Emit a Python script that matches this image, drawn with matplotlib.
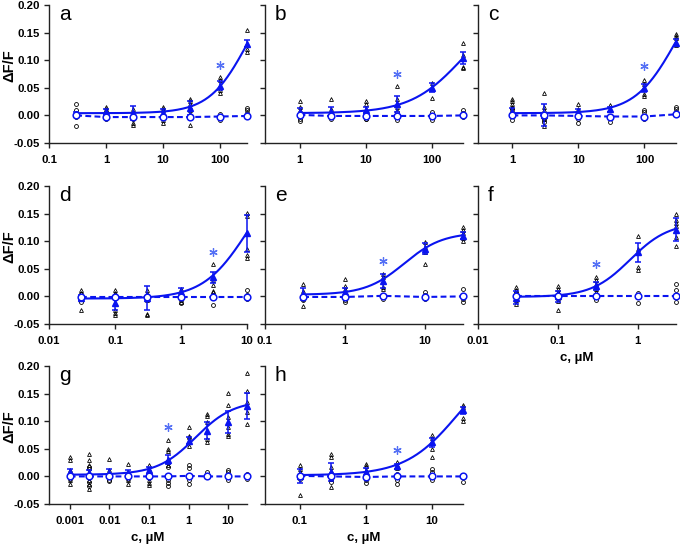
""" Concentration-response panels a-h """

import numpy as np
import matplotlib
matplotlib.use('Agg')
import matplotlib.pyplot as plt
from matplotlib.ticker import FixedLocator, NullLocator

plt.rcParams['font.family'] = ['Liberation Sans', 'DejaVu Sans']

BLUE = '#0a14f0'
STAR = '#5470f5'

# ---- panel a ----
conc_a = [0.3, 1, 3, 10, 30, 100, 300]
tri_a = [[0.004, 0.002], [0.015, 0.012, 0.009], [0.012, 0.006, -0.014, -0.018],
         [0.015, 0.012, 0.009, -0.009, -0.014], [0.030, 0.027, 0.021, 0.015, 0.009, -0.018],
         [0.070, 0.065, 0.046, 0.040], [0.154, 0.130, 0.121, 0.115]]
circ_a = [[0.020, 0.009, -0.002, -0.020], [-0.006, 0.0], [-0.006], [-0.005],
          [0.0], [0.003, -0.008], [0.014, 0.009, 0.004]]
mean_a = [0.003, 0.007, 0.004, 0.005, 0.014, 0.054, 0.130]
err_a = [0.003, 0.004, 0.013, 0.006, 0.013, 0.008, 0.006]
cmean_a = [0.0, -0.003, -0.003, -0.003, -0.003, -0.002, -0.001]
star_a = (100, 0.091)
fit_a = (0.004, 0.25, 300, 1.3)

# ---- panel b ----
conc_b = [1, 3, 10, 30, 100, 300]
tri_b = [[0.027, 0.015, 0.009], [0.030, 0.012], [0.026, 0.021, 0.012],
         [0.053, 0.030, 0.016], [0.059, 0.050, 0.031], [0.131, 0.110, 0.088, 0.085]]
circ_b = [[-0.006, -0.010], [-0.006], [-0.006, -0.007], [0.006, -0.008],
          [0.007, -0.008], [0.010, 0.005, -0.002]]
mean_b = [0.006, 0.007, 0.010, 0.021, 0.050, 0.104]
err_b = [0.007, 0.008, 0.005, 0.015, 0.008, 0.011]
cmean_b = [0.001, -0.001, -0.001, -0.001, -0.001, 0.0]
star_b = (30, 0.075)
fit_b = (0.004, 0.20, 300, 1.1)

# ---- panel c ----
conc_c = [1, 3, 10, 30, 100, 300]
tri_c = [[0.030, 0.026, 0.021, 0.016], [0.040, 0.015, 0.009, -0.006, -0.020],
         [0.021, 0.012], [0.018, 0.012], [0.065, 0.057, 0.039, 0.036],
         [0.148, 0.143, 0.140, 0.127]]
circ_c = [[0.012, 0.006, -0.009], [-0.006, -0.012], [0.003, -0.006, -0.014],
          [-0.012], [0.009, 0.006, -0.006], [0.016, 0.012, 0.007]]
mean_c = [0.006, 0.0, 0.006, 0.011, 0.050, 0.132]
err_c = [0.008, 0.020, 0.005, 0.004, 0.007, 0.006]
cmean_c = [0.0, 0.0, -0.001, -0.002, -0.002, 0.002]
star_c = (100, 0.089)
fit_c = (0.004, 0.26, 300, 1.4)

# ---- panel d ----
conc_d = [0.03, 0.1, 0.3, 1, 3, 10]
tri_d = [[0.011, 0.006, -0.024], [0.011, 0.006, -0.024, -0.030, -0.034],
         [0.012, 0.005, -0.001, -0.007, -0.031, -0.034], [0.014, 0.008, 0.005, -0.010],
         [0.058, 0.030, 0.020, 0.010, 0.008], [0.152, 0.145, 0.085, 0.075, 0.070]]
circ_d = [[0.005, -0.010], [0.002, -0.002], [0.003, -0.005], [-0.007, -0.012],
          [0.002, -0.015], [0.012, 0.002, -0.005]]
mean_d = [-0.002, -0.012, -0.003, 0.008, 0.035, 0.114]
err_d = [0.004, 0.013, 0.021, 0.008, 0.010, 0.034]
cmean_d = [-0.001, -0.001, -0.001, -0.001, -0.001, -0.001]
star_d = (3, 0.081)
fit_d = (-0.004, 0.24, 10, 1.3)

# ---- panel e ----
conc_e = [0.3, 1, 3, 10, 30]
tri_e = [[0.022, 0.010, -0.018], [0.032, 0.018, 0.014], [0.041, 0.036, 0.017, 0.014],
         [0.098, 0.090, 0.080, 0.058], [0.125, 0.120, 0.115, 0.105, 0.100]]
circ_e = [[-0.004, -0.007], [-0.007, -0.010], [-0.004], [0.008, 0.002, -0.005],
          [0.014, -0.004, -0.010]]
mean_e = [0.004, 0.008, 0.028, 0.086, 0.110]
err_e = [0.011, 0.007, 0.012, 0.010, 0.006]
cmean_e = [-0.001, -0.001, 0.001, -0.001, 0.0]
star_e = (3, 0.064)
fit_e = (0.003, 0.113, 5.5, 1.8)

# ---- panel f ----
conc_f = [0.03, 0.1, 0.3, 1, 3]
tri_f = [[0.017, 0.012, 0.004, -0.007, -0.013], [0.018, 0.014, 0.008, 0.005, -0.008, -0.025],
         [0.036, 0.030, 0.023, 0.014, 0.008], [0.110, 0.086, 0.054, 0.047],
         [0.150, 0.138, 0.133, 0.127, 0.121, 0.107, 0.092]]
circ_f = [[0.006, -0.005], [0.004, -0.004], [-0.007], [0.006, -0.012],
          [0.023, 0.011, -0.010]]
mean_f = [-0.002, 0.0, 0.019, 0.080, 0.121]
err_f = [0.011, 0.010, 0.008, 0.017, 0.021]
cmean_f = [0.0, 0.0, 0.0, 0.0, 0.0]
star_f = (0.3, 0.059)
fit_f = (-0.001, 0.135, 0.8, 1.8)

# ---- panel g ----
conc_g = [0.001, 0.003, 0.01, 0.03, 0.1, 0.3, 1, 3, 10, 30]
tri_g = [[0.035, 0.029, 0.011, -0.007, -0.014], [0.041, 0.029, 0.020, -0.007, -0.014, -0.022],
         [0.032, 0.011, 0.005], [0.023, -0.007, -0.013], [0.020, 0.014, -0.007, -0.012, -0.016],
         [0.066, 0.050, 0.046, 0.032, 0.026, 0.020],
         [0.089, 0.074, 0.071, 0.065, 0.056],
         [0.114, 0.110, 0.098, 0.080, 0.068, 0.062],
         [0.152, 0.129, 0.107, 0.090, 0.077, 0.074],
         [0.188, 0.155, 0.134, 0.116, 0.095]]
circ_g = [[0.004, -0.004], [0.017, 0.014, -0.010, -0.018], [-0.006, -0.008], [-0.004],
          [0.005, -0.002], [0.017, -0.007, -0.012, -0.018], [0.020, 0.016, -0.007, -0.014],
          [0.008], [0.011, 0.008, -0.006], [0.004, -0.004]]
mean_g = [0.008, 0.006, 0.007, 0.007, 0.011, 0.030, 0.065, 0.083, 0.098, 0.128]
err_g = [0.006, 0.006, 0.006, 0.005, 0.006, 0.008, 0.006, 0.016, 0.020, 0.024]
cmean_g = [0.0, 0.0, 0.0, 0.0, 0.0, 0.0, 0.001, 0.0, 0.0, 0.0]
star_g = (0.3, 0.090)
fit_g = (0.003, 0.135, 1.5, 0.9)

# ---- panel h ----
conc_h = [0.1, 0.3, 1, 3, 10, 30]
tri_h = [[0.020, 0.014, 0.008, -0.034], [0.040, 0.035, 0.017, 0.009, -0.004, -0.019],
         [0.022, 0.018, 0.011], [0.026, 0.020, 0.016], [0.075, 0.070, 0.050, 0.035],
         [0.130, 0.125, 0.120, 0.105, 0.100]]
circ_h = [[0.001, -0.004], [-0.004, -0.010], [-0.007, -0.012], [0.005, -0.007, -0.014],
          [0.014, 0.008, -0.006], [-0.001, -0.010]]
mean_h = [0.001, 0.008, 0.008, 0.018, 0.062, 0.120]
err_h = [0.013, 0.016, 0.007, 0.005, 0.008, 0.006]
cmean_h = [0.001, 0.0, -0.001, 0.0, 0.0, 0.0]
star_h = (3, 0.048)
fit_h = (0.002, 0.22, 25, 1.1)

xlims = {'a': (0.1, 300), 'b': (0.3, 300), 'c': (0.3, 300), 'd': (0.01, 10),
         'e': (0.1, 30), 'f': (0.01, 3), 'g': (0.0003, 30), 'h': (0.03, 30)}

panels = {
    'a': (conc_a, tri_a, circ_a, mean_a, err_a, cmean_a, star_a, fit_a),
    'b': (conc_b, tri_b, circ_b, mean_b, err_b, cmean_b, star_b, fit_b),
    'c': (conc_c, tri_c, circ_c, mean_c, err_c, cmean_c, star_c, fit_c),
    'd': (conc_d, tri_d, circ_d, mean_d, err_d, cmean_d, star_d, fit_d),
    'e': (conc_e, tri_e, circ_e, mean_e, err_e, cmean_e, star_e, fit_e),
    'f': (conc_f, tri_f, circ_f, mean_f, err_f, cmean_f, star_f, fit_f),
    'g': (conc_g, tri_g, circ_g, mean_g, err_g, cmean_g, star_g, fit_g),
    'h': (conc_h, tri_h, circ_h, mean_h, err_h, cmean_h, star_h, fit_h),
}


def hill(c, base, amp, k, n):
    """ fitted Hill curve """
    return base + amp * c ** n / (c ** n + k ** n)


def draw_panel(ax, key, data):
    conc, tri, circ, mean, err, cmean, star, fit = data
    for c, pts in zip(conc, tri):
        ax.plot([c] * len(pts), pts, linestyle='none', marker='^', ms=2.8,
                mfc='none', mec='black', mew=0.6, clip_on=False, zorder=2)
    for c, pts in zip(conc, circ):
        ax.plot([c] * len(pts), pts, linestyle='none', marker='o', ms=2.8,
                mfc='none', mec='black', mew=0.6, clip_on=False, zorder=2)

    xs = np.logspace(np.log10(conc[0]), np.log10(conc[-1]), 200)
    ax.plot(xs, hill(xs, *fit), color=BLUE, lw=1.5, clip_on=False, zorder=3)

    ax.errorbar(conc, mean, yerr=err, fmt='^', ms=4.5, color=BLUE, mfc=BLUE,
                mec=BLUE, elinewidth=1.1, capsize=2.5, capthick=1.1,
                clip_on=False, zorder=4)
    ax.plot(conc, cmean, color=BLUE, lw=1.5, dashes=(2.8, 1.6), marker='o', ms=4.8,
            mfc='white', mec=BLUE, mew=1.1, clip_on=False, zorder=5)
    ax.plot([star[0]], [star[1]], linestyle='none', marker=(6, 2, 0), ms=6,
            mec=STAR, mew=0.9, zorder=6)

    ax.set_xscale('log')
    ax.set_xlim(*xlims[key])
    ax.set_ylim(-0.05, 0.20)
    lo, hi = xlims[key]
    decades = [10.0 ** p for p in range(-4, 4) if lo * 0.999 <= 10.0 ** p <= hi * 1.001]
    ax.xaxis.set_major_locator(FixedLocator(decades))
    ax.xaxis.set_minor_locator(NullLocator())
    ax.set_xticklabels(['%g' % d for d in decades])
    ax.set_yticks([-0.05, 0.0, 0.05, 0.10, 0.15, 0.20])
    ax.set_yticklabels(['-0.05', '0.00', '0.05', '0.10', '0.15', '0.20'])
    for side in ('top', 'right'):
        ax.spines[side].set_visible(False)
    for side in ('left', 'bottom'):
        ax.spines[side].set_linewidth(1.0)
        ax.spines[side].set_color('#222222')
    ax.tick_params(direction='out', length=3.5, width=1.0, color='#222222',
                   labelsize=8.2)
    ax.tick_params(axis='x', pad=5)
    ax.tick_params(axis='y', pad=3)
    for lab in ax.get_xticklabels() + ax.get_yticklabels():
        lab.set_fontweight('bold')
    ax.text(0.05, 1.0, key, transform=ax.transAxes, fontsize=15,
            ha='left', va='top')


def main():
    fig = plt.figure(figsize=(6.8, 5.46), dpi=100)
    lefts = [0.0721, 0.3897, 0.7029]
    bottoms = [0.7381, 0.4066, 0.0769]
    width, height = 0.2912, 0.2527
    keys = ['a', 'b', 'c', 'd', 'e', 'f', 'g', 'h']
    for i, key in enumerate(keys):
        row, col = divmod(i, 3)
        ax = fig.add_axes([lefts[col], bottoms[row], width, height])
        draw_panel(ax, key, panels[key])
        if col == 0:
            fig.text(9 / 680, bottoms[row] + height * 0.56, 'ΔF/F', rotation=90,
                     fontsize=10.5, fontweight='bold', ha='center', va='center')
        else:
            ax.set_yticklabels([])
        if key in ('f', 'g', 'h'):
            ax.set_xlabel('c, µM', fontsize=9.5, fontweight='bold', labelpad=4.5)
    fig.savefig('out.png', dpi=100)


if __name__ == "__main__":
    main()
